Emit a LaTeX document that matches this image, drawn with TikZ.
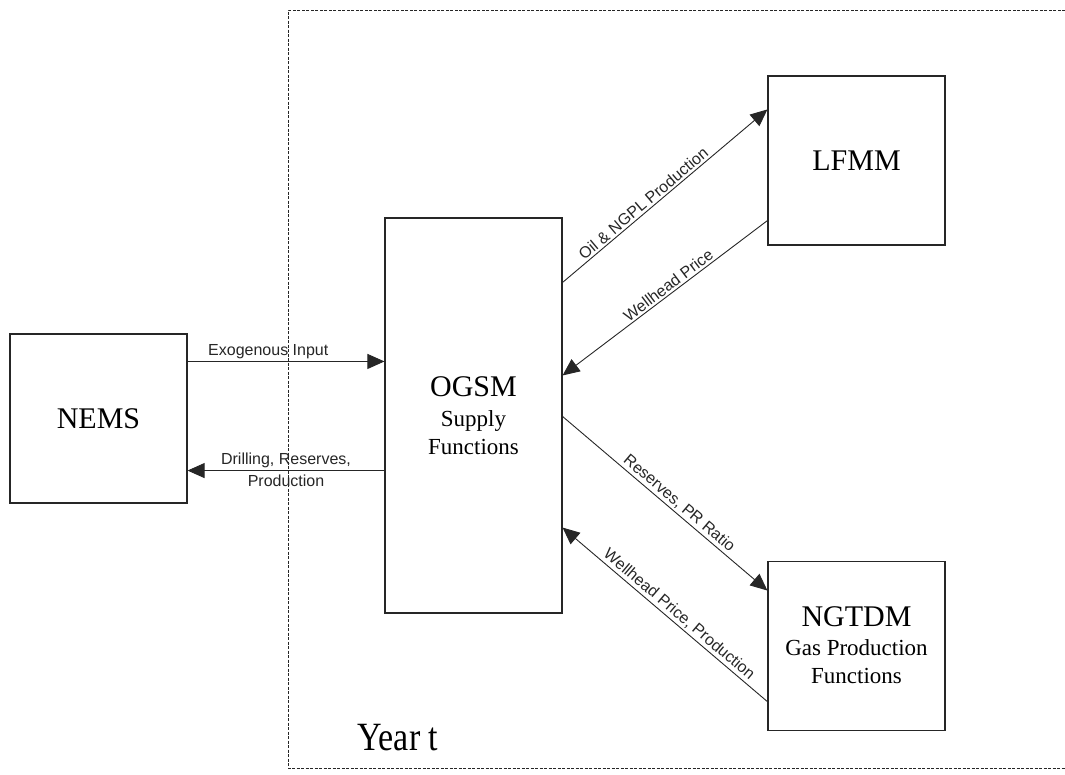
\documentclass[tikz,border=0pt]{standalone}
\usepackage{fontspec}
\setmainfont{Liberation Serif}
\newfontfamily\arialfont{Liberation Sans}
\usetikzlibrary{arrows.meta}
\usetikzlibrary{positioning}
\tikzset{box/.style = {draw = dgray, line width = 1.1, minimum width = 177, minimum height = 169, inner sep = 0, align = center, font = \fontsize{30}{28}\selectfont}}
\tikzset{flow/.style = {dgray, line width = 0.9, -{Triangle[length = 17pt, width = 15pt]}}}
\tikzset{lbl/.style = {font = \arialfont\fontsize{16}{18}\selectfont, inner sep = 2}}
\definecolor{dgray}{rgb}{0.15, 0.15, 0.15}
\newcommand{\subfont}{\fontsize{23}{28}\selectfont}

\begin{document}
\begin{tikzpicture}[x = 1pt, y = 1pt]
    \useasboundingbox (0, 0) rectangle (1065, -774);
    \draw [dgray, dash pattern = on 3pt off 1.5pt] (1065, -10) -- (288, -10) -- (288, -768) -- (1065, -768);

    \node [box] (nems) at (98.5, -418.5) {NEMS};
    \node [box, minimum height = 395] (ogsm) at (473.5, -415.5) {OGSM\\[2pt]\subfont Supply\\\subfont Functions};
    \node [box] (lfmm) at (856.5, -160.5) {LFMM};
    \node [box, below = 315 of lfmm] (ngtdm) {NGTDM\\[1pt]\subfont Gas Production\\\subfont Functions};

    \node (year) at (398, -738) {\scalebox{1}[1.18]{\fontsize{34}{40}\selectfont Year t}};

    % NEMS <-> OGSM
    \coordinate (exo) at ([yshift = -28pt] nems.north east);
    \coordinate (drl) at ([yshift = 33pt] nems.south east);
    \draw [flow] (exo) -- (exo -| ogsm.west) node [lbl, above, pos = 0.41] {Exogenous Input};
    \draw [flow] (drl -| ogsm.west) -- (drl)
        node [lbl, above, midway] {Drilling, Reserves,}
        node [lbl, below, midway, yshift = -2] {Production};

    % OGSM <-> LFMM
    \draw [flow] ([yshift = -65pt] ogsm.north east) -- ([yshift = -34pt] lfmm.north west)
        node [lbl, sloped, above, pos = 0.42] {Oil \& NGPL Production};
    \draw [flow] ([yshift = 25pt] lfmm.south west) -- ([yshift = -158pt] ogsm.north east)
        node [lbl, sloped, above, pos = 0.46] {Wellhead Price};

    % OGSM <-> NGTDM
    \draw [flow] ([yshift = -199pt] ogsm.north east) -- ([yshift = -30pt] ngtdm.north west)
        node [lbl, sloped, above, pos = 0.54] {Reserves, PR Ratio};
    \draw [flow] ([yshift = 29pt] ngtdm.south west) -- ([yshift = 86pt] ogsm.south east)
        node [lbl, sloped, above, pos = 0.46] {Wellhead Price, Production};
\end{tikzpicture}
\end{document}
